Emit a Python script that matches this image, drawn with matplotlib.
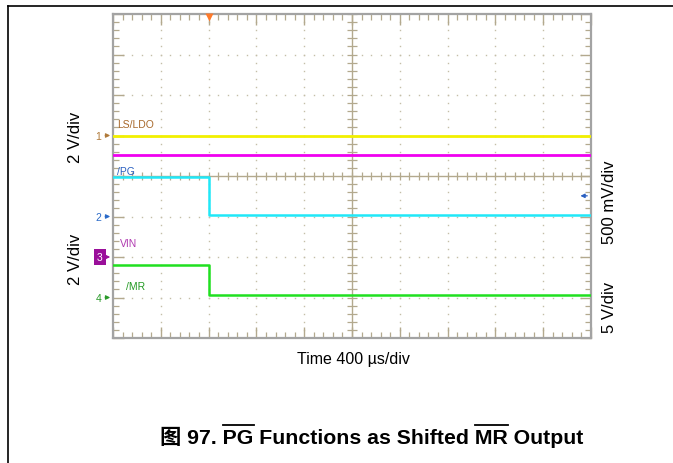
import numpy as np
import matplotlib
matplotlib.use("Agg")
import matplotlib.pyplot as plt
from matplotlib.lines import Line2D

# ── Data (scope divisions, 400 us/div horizontally) ──────────────────────────
t_div = [0, 2, 2, 10]                      # step happens at the trigger (2 div)
ls_ldo = [1.0, 1.0, 1.0, 1.0]              # CH1 yellow
vin = [0.52, 0.52, 0.52, 0.52]             # CH3 magenta
pg = [-0.03, -0.03, -0.96, -0.96]          # CH2 cyan
mr = [-2.2, -2.2, -2.94, -2.94]            # CH4 green
trigger_div = 2.0
ch_markers = {"1": 1.0, "2": -1.0, "3": -2.0, "4": -3.0}

GRID = "#b3a98e"
DOT = "#c4bea8"
plt.rcParams["font.family"] = ["Liberation Sans", "Noto Sans CJK SC", "DejaVu Sans"]

fig = plt.figure(figsize=(6.73, 4.64), dpi=100)
W, H = 673, 464
ax = fig.add_axes([113 / W, 1 - 339 / H, (591 - 113) / W, (339 - 15) / H])
ax.set_xlim(0, 10); ax.set_ylim(-4, 4)

# ── Graticule ────────────────────────────────────────────────────────────────
sub_x = np.arange(0, 10.01, 0.2); sub_y = np.arange(-4, 4.01, 0.2)
for gx in range(1, 10):
    if gx == 5: continue
    ax.plot(np.full_like(sub_y, gx), sub_y, ls="none", marker="s", ms=1.0, mec="none", mfc=DOT, zorder=1)
for gy in range(-3, 4):
    if gy == 0: continue
    ax.plot(sub_x, np.full_like(sub_x, gy), ls="none", marker="s", ms=1.0, mec="none", mfc=DOT, zorder=1)
ax.axvline(5, color=GRID, lw=1.0, zorder=1); ax.axhline(0, color=GRID, lw=1.0, zorder=1)
ax.vlines(sub_x, -0.1, 0.1, color=GRID, lw=0.9, zorder=1)
ax.hlines(sub_y, 4.9, 5.1, color=GRID, lw=0.9, zorder=1)

ax.set_xticks(np.arange(0, 11, 1)); ax.set_xticks(sub_x, minor=True)
ax.set_yticks(np.arange(-4, 5, 1)); ax.set_yticks(sub_y, minor=True)
ax.tick_params(which="both", direction="in", top=True, right=True, color=GRID,
               labelbottom=False, labelleft=False)
ax.tick_params(which="major", length=8, width=1.0)
ax.tick_params(which="minor", length=4, width=0.9)
for s in ax.spines.values():
    s.set_color("#a3a3a3"); s.set_linewidth(1.6)

# ── Traces ───────────────────────────────────────────────────────────────────
ax.plot(t_div, ls_ldo, color="#f2f000", lw=2.0, zorder=3)
ax.plot(t_div, vin, color="#f000f0", lw=2.0, zorder=3)
ax.plot(t_div, pg, color="#20e8f8", lw=1.8, zorder=3)
ax.plot(t_div, mr, color="#20e020", lw=1.8, zorder=3)

# ── In-screen labels ─────────────────────────────────────────────────────────
lab_fs = 7.5
ax.text(0.08, 1.28, "LS/LDO", color="#a8682a", fontsize=lab_fs, va="center")
ax.text(0.08, 0.12, "/PG", color="#2a5fc0", fontsize=lab_fs, va="center")
ax.text(0.15, -1.65, "VIN", color="#b03ab0", fontsize=lab_fs, va="center")
ax.text(0.27, -2.72, "/MR", color="#229a22", fontsize=lab_fs, va="center")

mk_colors = {"1": "#b07a3a", "2": "#2a6ac8", "4": "#2a9a2a"}
for name, lvl in ch_markers.items():
    c = "#9a0f9a" if name == "3" else mk_colors[name]
    if name == "3":
        ax.text(-0.22, lvl, "3", color="white", fontsize=lab_fs, ha="right", va="center",
                clip_on=False, bbox=dict(boxstyle="square,pad=0.3", fc=c, ec="none"))
    else:
        ax.text(-0.24, lvl, name, color=c, fontsize=lab_fs, ha="right", va="center", clip_on=False)
    ax.annotate("", xy=(0, lvl), xytext=(-0.22, lvl), annotation_clip=False,
                arrowprops=dict(arrowstyle="-|>", color=c, lw=0.9, mutation_scale=6))

# right-hand offset arrow and trigger marker
ax.annotate("", xy=(9.72, -0.49), xytext=(9.98, -0.49),
            arrowprops=dict(arrowstyle="-|>", color="#2a5fc0", lw=0.9, mutation_scale=6))
ax.plot([trigger_div], [3.92], marker="v", ms=6, color="#ff7a2a", mec="none", clip_on=False, zorder=5)

# ── Scale labels ─────────────────────────────────────────────────────────────
sc_fs = 12
fig.text(75 / W, 1 - 137 / H, "2 V/div", rotation=90, fontsize=sc_fs, ha="center", va="center")
fig.text(75 / W, 1 - 259 / H, "2 V/div", rotation=90, fontsize=sc_fs, ha="center", va="center")
fig.text(610 / W, 1 - 202 / H, "500 mV/div", rotation=90, fontsize=sc_fs, ha="center", va="center")
fig.text(610 / W, 1 - 307 / H, "5 V/div", rotation=90, fontsize=sc_fs, ha="center", va="center")
fig.text(353 / W, 1 - 360 / H, "Time 400 \u00b5s/div", fontsize=11.5, ha="center", va="center")

# ── Page frame ───────────────────────────────────────────────────────────────
fig.add_artist(Line2D([8 / W, 8 / W], [0, 1 - 7 / H], color="black", lw=1.2))
fig.add_artist(Line2D([8 / W, 1], [1 - 7 / H, 1 - 7 / H], color="black", lw=1.2))

# ── Caption with overlined PG / MR ───────────────────────────────────────────
cap = "\u56fe 97. PG Functions as Shifted MR Output"
cx, cy = 372 / W, 1 - 437 / H
cap_kw = dict(fontsize=15.3, fontweight="bold", va="center")
t = fig.text(cx, cy, cap, ha="center", **cap_kw)
r = fig.canvas.get_renderer()
full = t.get_window_extent(r)

def width_of(s):
    tmp = fig.text(0, 0, s, ha="left", **cap_kw)
    w = tmp.get_window_extent(r).width
    tmp.remove()
    return w

for word in ["PG", "MR"]:
    i = cap.index(word)
    x0 = full.x0 + width_of(cap[:i])
    x1 = full.x0 + width_of(cap[:i + len(word)])
    yl = full.y1 + 0.5
    fig.add_artist(Line2D([x0 / W, x1 / W], [yl / H, yl / H], color="black", lw=1.3))

fig.savefig("out.png", dpi=100)
